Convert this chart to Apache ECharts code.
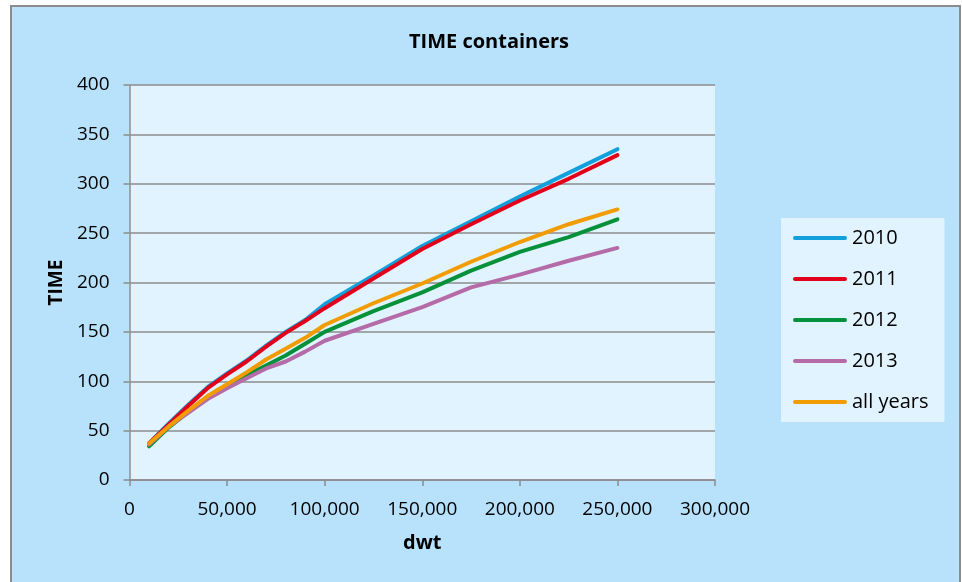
<!DOCTYPE html>
<html>
<head>
<meta charset="utf-8">
<script src="https://cdn.jsdelivr.net/npm/echarts@6/dist/echarts.min.js"></script>
<style>
  html, body { margin: 0; padding: 0; background: #ffffff; }
  #chart { width: 962px; height: 582px; }
</style>
</head>
<body>
<div id="chart"></div>
<script>
// Vessel size (dwt) at which each curve is sampled
const dwt = [10000, 20000, 30000, 40000, 50000, 60000, 70000, 80000, 90000, 100000,
             125000, 150000, 175000, 200000, 225000, 250000];

// TIME values per year
const y2010 = [37, 57, 76, 94, 108, 121, 136, 150, 162, 178, 207, 237, 262, 287, 311, 335];
const y2011 = [37, 56, 75, 93, 107, 120, 135, 149, 161, 174, 204, 234, 259, 283, 305, 329];
const y2012 = [34, 53, 69, 84, 95, 106, 116, 126, 138, 150, 171, 190, 212, 231, 246, 264];
const y2013 = [36, 54, 68, 82, 93, 103, 113, 120, 130, 141, 158, 175, 195, 208, 222, 235];
const yAll  = [37, 54, 70, 85, 97, 109, 122, 133, 144, 157, 179, 199, 221, 241, 259, 274];

const seriesNames = ['2010', '2011', '2012', '2013', 'all years'];
const seriesValues = [y2010, y2011, y2012, y2013, yAll];
const seriesColors = ['#12A0DD', '#E3001B', '#05913A', '#B46BA7', '#F29C00'];

const FONT = 'Open Sans';
// Legend sample: a short bar with rounded ends
const LEGEND_LINE = 'path://M2,0 L52,0 A2,2 0 0 1 52,4 L2,4 A2,2 0 0 1 2,0 Z';

const chart = echarts.init(document.getElementById('chart'), null, { renderer: 'canvas' });

const pairs = (vals) => dwt.map((x, i) => [x, vals[i]]);

chart.setOption({
  animation: false,
  backgroundColor: '#ffffff',
  graphic: [{
    type: 'rect',
    z: -10,
    silent: true,
    shape: { x: 11, y: 6, width: 949, height: 620 },
    style: { fill: '#B8E2FC', stroke: '#8C8C8C', lineWidth: 2 }
  }],
  title: {
    text: 'TIME containers',
    left: 484,
    top: 27,
    textAlign: 'center',
    textStyle: { fontFamily: FONT, fontWeight: 'bold', fontSize: 20, color: '#000' }
  },
  legend: {
    orient: 'vertical',
    left: 781,
    top: 218,
    padding: [10, 16, 10, 12],
    backgroundColor: '#E1F3FE',
    icon: LEGEND_LINE,
    itemWidth: 54,
    itemHeight: 5,
    itemGap: 21,
    textStyle: { fontFamily: FONT, fontSize: 20, lineHeight: 20, color: '#000' },
    data: seriesNames
  },
  grid: {
    left: 129.5,
    top: 85,
    right: 247,
    bottom: 102,
    show: true,
    backgroundColor: '#E1F3FE',
    borderWidth: 0
  },
  xAxis: {
    type: 'value',
    min: 0,
    max: 300000,
    interval: 50000,
    name: 'dwt',
    nameLocation: 'middle',
    nameGap: 53,
    nameTextStyle: { fontFamily: FONT, fontWeight: 'bold', fontSize: 20, color: '#000' },
    axisLine: { show: true, lineStyle: { color: '#8C8C8C', width: 1.5 } },
    axisTick: { show: true, length: 6, lineStyle: { color: '#8C8C8C', width: 1.5 } },
    axisLabel: {
      margin: 20,
      fontFamily: FONT,
      fontSize: 19,
      color: '#000',
      formatter: (v) => v.toLocaleString('en-US')
    },
    splitLine: { show: false }
  },
  yAxis: {
    type: 'value',
    min: 0,
    max: 400,
    interval: 50,
    name: 'TIME',
    nameLocation: 'middle',
    nameGap: 60,
    nameTextStyle: { fontFamily: FONT, fontWeight: 'bold', fontSize: 19, color: '#000' },
    axisLine: { show: true, lineStyle: { color: '#8C8C8C', width: 1.5 } },
    axisTick: { show: true, length: 6, lineStyle: { color: '#8C8C8C', width: 1.5 } },
    axisLabel: { margin: 20, fontFamily: FONT, fontSize: 19, color: '#000' },
    splitLine: { show: true, lineStyle: { color: '#8C8C8C', width: 1.5 } }
  },
  series: seriesNames.map((name, i) => ({
    name: name,
    type: 'line',
    data: pairs(seriesValues[i]),
    showSymbol: false,
    symbol: 'none',
    color: seriesColors[i],
    lineStyle: { color: seriesColors[i], width: 4, cap: 'round', join: 'round' }
  }))
});
</script>
</body>
</html>
